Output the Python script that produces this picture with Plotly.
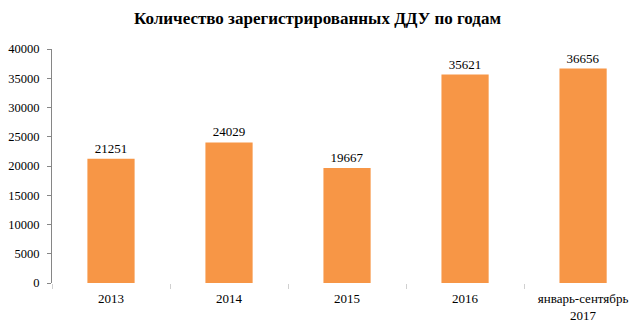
import plotly.graph_objects as go

categories = ["2013", "2014", "2015", "2016", "январь-сентябрь<br>2017"]
values = [21251, 24029, 19667, 35621, 36656]
y_ticks = [0, 5000, 10000, 15000, 20000, 25000, 30000, 35000, 40000]

FONT = "Liberation Serif"

fig = go.Figure(go.Bar(
    x=categories,
    y=values,
    marker=dict(color="#F79646", line=dict(width=0)),
    width=0.4,
    text=[str(v) for v in values],
    textposition="outside",
    textfont=dict(family=FONT, size=13, color="#000000"),
    cliponaxis=False,
))

fig.update_layout(
    width=635, height=326,
    margin=dict(l=52, r=0, t=49, b=43),
    paper_bgcolor="white", plot_bgcolor="white",
    title=dict(text="<b>Количество зарегистрированных ДДУ по годам</b>",
               font=dict(family=FONT, size=17, color="#000000"),
               x=0.5, xanchor="center", y=0.945, yanchor="middle"),
    showlegend=False,
    bargap=0.6,
)
fig.update_xaxes(
    range=[-0.5, 4.44],
    showline=False, showgrid=False,
    ticks="outside", tickson="boundaries", ticklen=5, tickcolor="#d0d0d0",
    tickfont=dict(family=FONT, size=13, color="#000000"),
    ticklabelstandoff=6,
    fixedrange=True,
)
fig.update_yaxes(
    range=[0, 40000],
    tickvals=y_ticks,
    ticktext=[str(v) for v in y_ticks],
    showline=True, linecolor="#868686", linewidth=1,
    showgrid=False, zeroline=False,
    ticks="outside", ticklen=4, tickcolor="#868686",
    tickfont=dict(family=FONT, size=12.5, color="#000000"),
    ticklabelstandoff=5,
    fixedrange=True,
)

fig.write_html("out.html")
